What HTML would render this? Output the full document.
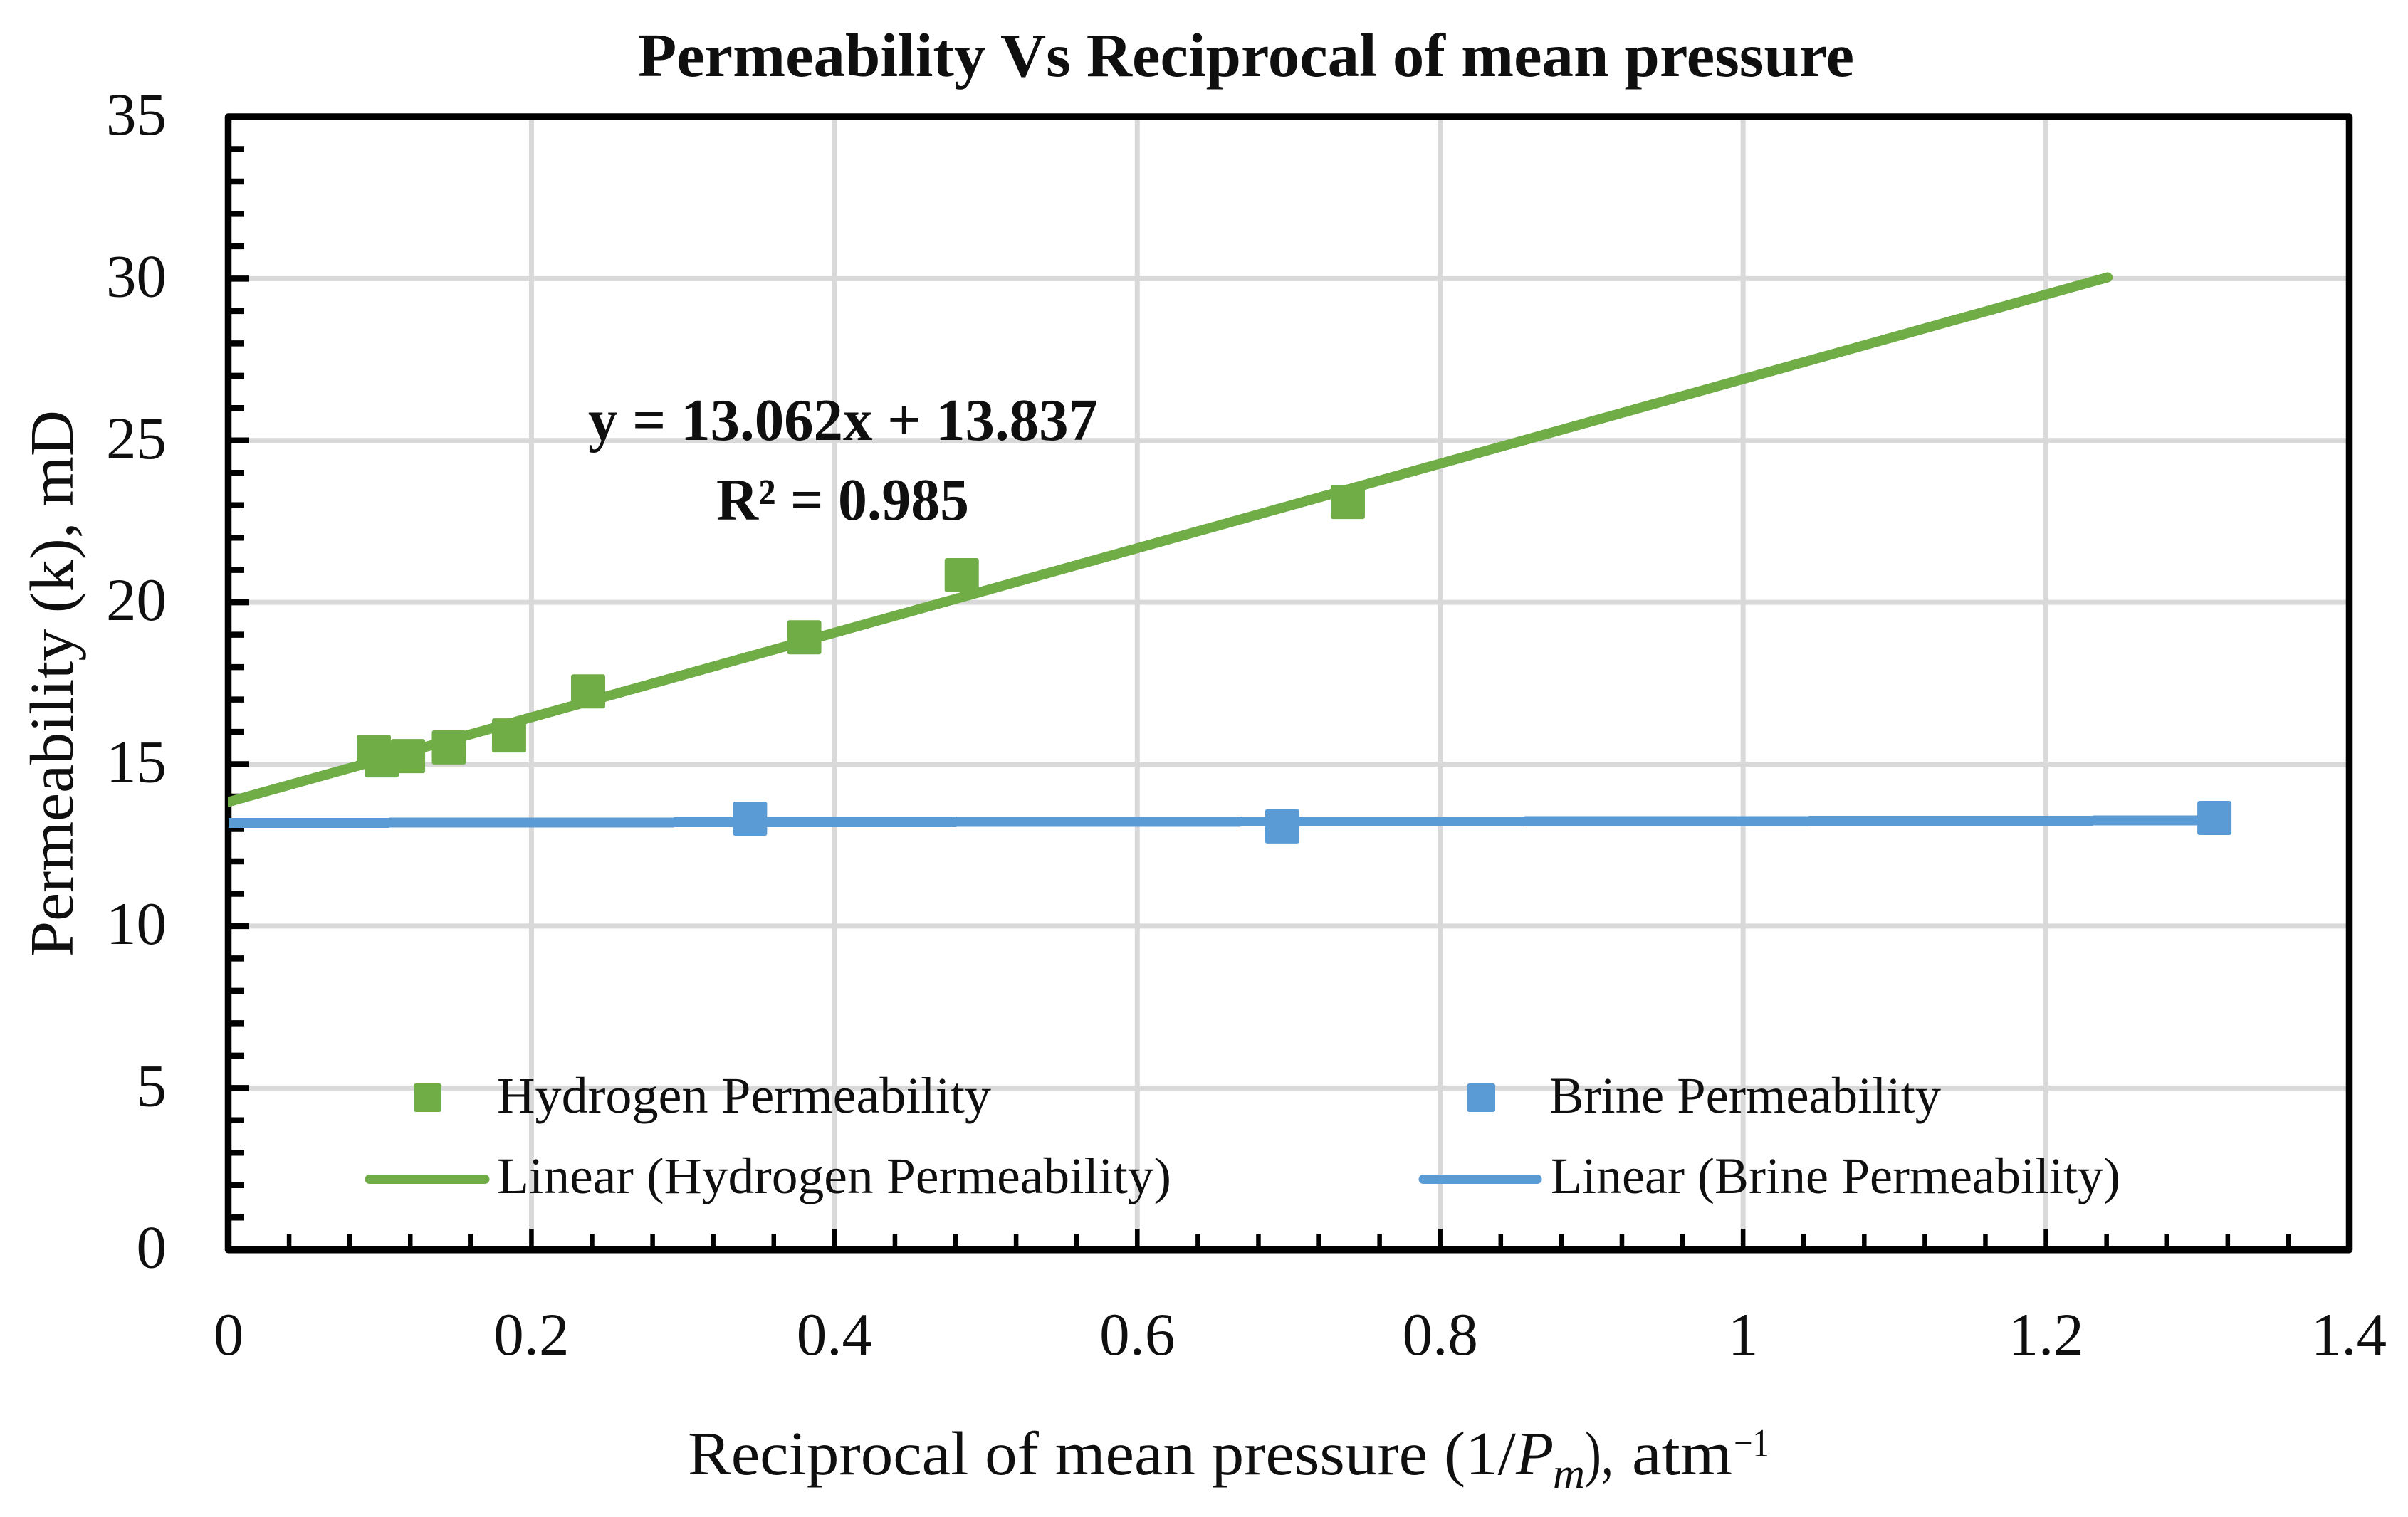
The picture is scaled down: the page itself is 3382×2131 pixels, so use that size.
<!DOCTYPE html>
<html lang="en">
<head>
<meta charset="utf-8">
<title>Permeability Vs Reciprocal of mean pressure</title>
<style>
html,body{margin:0;padding:0;background:#fff;}
svg{display:block;}
text{font-family:"Liberation Serif",serif;fill:#0f0f0f;}
</style>
</head>
<body>
<svg id="chart" xmlns="http://www.w3.org/2000/svg" width="3382" height="2131" viewBox="0 0 3382 2131">
  <defs>
    <clipPath id="plot-clip"><rect x="320" y="159" width="2984" height="1602"/></clipPath>
  </defs>
  <rect x="0" y="0" width="3382" height="2131" fill="#ffffff"/>
  <g id="grid"></g>
  <g id="ticks"></g>
  <rect x="320.5" y="164" width="2979" height="1591.7" fill="none" stroke="#000" stroke-width="9.5" stroke-linejoin="round"/>
  <g id="tick-labels" font-size="85"></g>
  <g id="series" clip-path="url(#plot-clip)"></g>

  <text x="1750" y="107" text-anchor="middle" font-size="87" font-weight="bold" textLength="1708" lengthAdjust="spacingAndGlyphs">Permeability Vs Reciprocal of mean pressure</text>

  <text transform="translate(102,1344) rotate(-90)" x="0" y="0" font-size="87" textLength="768" lengthAdjust="spacingAndGlyphs">Permeability (k), mD</text>

  <g font-size="87">
    <text x="966" y="2071" textLength="1163" lengthAdjust="spacingAndGlyphs">Reciprocal of mean pressure (1/</text>
    <text x="2129" y="2071" font-style="italic">P</text>
    <text x="2181" y="2090" font-size="60" font-style="italic" textLength="45" lengthAdjust="spacingAndGlyphs">m</text>
    <text x="2226" y="2071" textLength="40" lengthAdjust="spacingAndGlyphs">),</text>
    <text x="2292" y="2071" textLength="141" lengthAdjust="spacingAndGlyphs">atm</text>
    <text x="2435" y="2046" font-size="56" textLength="50" lengthAdjust="spacingAndGlyphs">−1</text>
  </g>

  <text x="826" y="618" font-size="84" font-weight="bold" textLength="716" lengthAdjust="spacingAndGlyphs">y = 13.062x + 13.837</text>
  <text x="1006" y="730" font-size="84" font-weight="bold" textLength="355" lengthAdjust="spacingAndGlyphs">R² = 0.985</text>

  <g font-size="72">
    <rect x="581" y="1522" width="39" height="40" rx="3" fill="#70AD47"/>
    <text x="698" y="1563" textLength="694" lengthAdjust="spacingAndGlyphs">Hydrogen Permeability</text>
    <line x1="519" y1="1656.5" x2="681" y2="1656.5" stroke="#70AD47" stroke-width="13" stroke-linecap="round"/>
    <text x="698" y="1676" textLength="947" lengthAdjust="spacingAndGlyphs">Linear (Hydrogen Permeability)</text>
    <rect x="2060.5" y="1522" width="39.5" height="40" rx="3" fill="#5B9BD5"/>
    <text x="2176" y="1563" textLength="550" lengthAdjust="spacingAndGlyphs">Brine Permeability</text>
    <line x1="1999" y1="1656.5" x2="2159" y2="1656.5" stroke="#5B9BD5" stroke-width="13" stroke-linecap="round"/>
    <text x="2178" y="1676" textLength="800" lengthAdjust="spacingAndGlyphs">Linear (Brine Permeability)</text>
  </g>
</svg>
<script>
const xTickValues = [0, 0.2, 0.4, 0.6, 0.8, 1, 1.2, 1.4];
const xTickLabels = ['0', '0.2', '0.4', '0.6', '0.8', '1', '1.2', '1.4'];
const yTickValues = [0, 5, 10, 15, 20, 25, 30, 35];
const yTickLabels = ['0', '5', '10', '15', '20', '25', '30', '35'];
const xMinorStep = 0.04;
const yMinorStep = 1;

const hydrogenX = [0.0959, 0.1011, 0.1185, 0.1455, 0.1852, 0.2374, 0.3801, 0.4841, 0.7390];
const hydrogenY = [15.38, 15.12, 15.25, 15.52, 15.89, 17.25, 18.92, 20.84, 23.10];
const brineX = [0.3443, 0.6957, 1.3112];
const brineY = [13.32, 13.08, 13.34];

const hydrogenTrendX = [0, 1.2407];
const hydrogenTrendY = [13.837, 30.04];
const brineTrendX = [0, 1.3112];
const brineTrendY = [13.186, 13.263];

const NS = 'http://www.w3.org/2000/svg';
const xScale = function (v) { return 321 + (v / 1.4) * 2978; };
const yScale = function (v) { return 1755.7 - (v / 35) * 1591.7; };

const gridGroup = document.getElementById('grid');
const tickGroup = document.getElementById('ticks');
const labelGroup = document.getElementById('tick-labels');
const seriesGroup = document.getElementById('series');

function makeLine(parent, x1, y1, x2, y2, color, width) {
  const el = document.createElementNS(NS, 'line');
  el.setAttribute('x1', x1);
  el.setAttribute('y1', y1);
  el.setAttribute('x2', x2);
  el.setAttribute('y2', y2);
  el.setAttribute('stroke', color);
  el.setAttribute('stroke-width', width);
  parent.appendChild(el);
  return el;
}

function makeLabel(x, y, anchor, str) {
  const el = document.createElementNS(NS, 'text');
  el.setAttribute('x', x);
  el.setAttribute('y', y);
  el.setAttribute('text-anchor', anchor);
  el.textContent = str;
  labelGroup.appendChild(el);
  return el;
}

function makeMarker(xv, yv, color) {
  const el = document.createElementNS(NS, 'rect');
  el.setAttribute('x', xScale(xv) - 24);
  el.setAttribute('y', yScale(yv) - 24);
  el.setAttribute('width', 48);
  el.setAttribute('height', 48);
  el.setAttribute('rx', 3);
  el.setAttribute('fill', color);
  seriesGroup.appendChild(el);
  return el;
}

xTickValues.forEach(function (v, i) {
  if (v > 0 && v < 1.4) {
    const g = makeLine(gridGroup, xScale(v), 164, xScale(v), 1755.7, '#D9D9D9', 7);
    
    
    const t = makeLine(tickGroup, xScale(v), 1726, xScale(v), 1755.7, '#000', 6.5);
    
    
  }
  const lab = makeLabel(xScale(v), 1903, 'middle', xTickLabels[i]);
  
  
});

yTickValues.forEach(function (v, i) {
  if (v > 0 && v < 35) {
    const g = makeLine(gridGroup, 321, yScale(v), 3299, yScale(v), '#D9D9D9', 7);
    
    
    const t = makeLine(tickGroup, 321, yScale(v), 350, yScale(v), '#000', 8.5);
    
    
  }
  const lab = makeLabel(234, yScale(v) + 25, 'end', yTickLabels[i]);
  
  
});

for (let k = 1; k < 35; k++) {
  const v = k * xMinorStep;
  if (k % 5 !== 0) {
    const t = makeLine(tickGroup, xScale(v), 1733, xScale(v), 1755.7, '#000', 6.5);
    
    
  }
}

for (let k = 1; k < 35; k++) {
  const v = k * yMinorStep;
  if (k % 5 !== 0) {
    const t = makeLine(tickGroup, 321, yScale(v), 343, yScale(v), '#000', 8.5);
    
    
  }
}

const hydrogenTrend = makeLine(seriesGroup, xScale(hydrogenTrendX[0]), yScale(hydrogenTrendY[0]), xScale(hydrogenTrendX[1]), yScale(hydrogenTrendY[1]), '#70AD47', 14);


hydrogenTrend.setAttribute('stroke-linecap', 'round');
hydrogenTrend.setAttribute('shape-rendering', 'crispEdges');

const brineTrend = makeLine(seriesGroup, xScale(brineTrendX[0]), yScale(brineTrendY[0]), xScale(brineTrendX[1]), yScale(brineTrendY[1]), '#5B9BD5', 14);


brineTrend.setAttribute('shape-rendering', 'crispEdges');

hydrogenX.forEach(function (xv, i) {
  const m = makeMarker(xv, hydrogenY[i], '#70AD47');
  
  
});

brineX.forEach(function (xv, i) {
  const m = makeMarker(xv, brineY[i], '#5B9BD5');
  
  
});
</script>
</body>
</html>
